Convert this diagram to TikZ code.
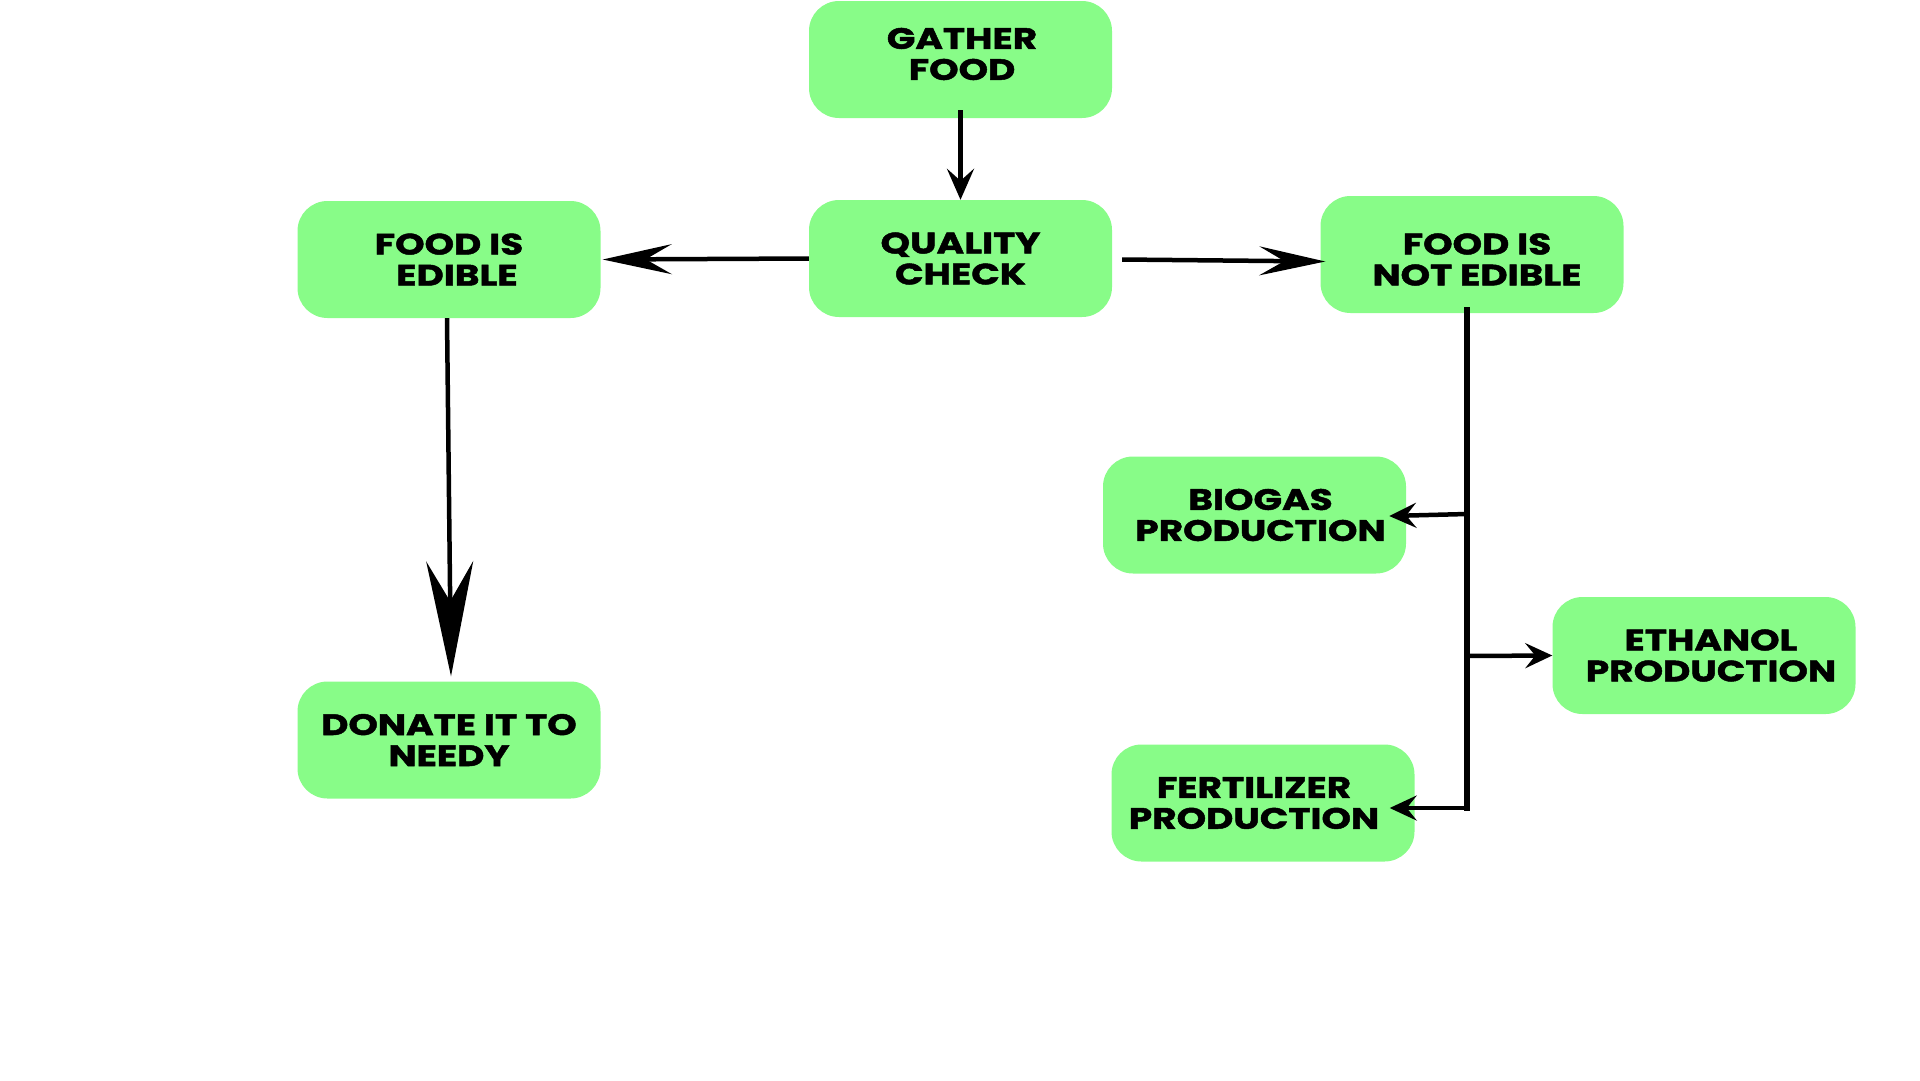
\documentclass[tikz,border=0pt]{standalone}
\usepackage{fontspec}
\newfontfamily\labfont[FakeStretch=1.27,BoldFeatures={FakeBold=1.6}]{Poppins}
\usetikzlibrary{arrows.meta}
\definecolor{boxgreen}{HTML}{88FC88}
\tikzset{
  box/.style={fill=boxgreen, rounded corners=30pt, minimum width=303pt, minimum height=117pt,
    inner sep=0pt, align=center, font=\labfont\bfseries\fontsize{29.5}{31}\selectfont},
  boxtext/.style={font=\labfont\bfseries\fontsize{29.5}{31}\selectfont, align=center},
  conn/.style={line width=4.5pt, draw=black},
}
\begin{document}
\begin{tikzpicture}[x=1pt,y=-1pt]
\useasboundingbox (0,0) rectangle (1920,1080);
\node[box] (gather) at (960.5,59.5) {};
\node[boxtext] (gathertext) at (962,54) {GATHER\\FOOD};
\node[box] (quality) at (960.5,258.5) {QUALITY\\ CHECK};
\node[box] (edible) at (449,259.5) {FOOD IS\\\hspace*{8pt} EDIBLE};
\node[box] (notedible) at (1472,254.5) {};
\node[boxtext] (notedibletext) at (1477,259.5) {FOOD IS\\NOT EDIBLE};
\node[box] (donate) at (449,740) {DONATE IT TO\\NEEDY};
\node[box] (biogas) at (1254.5,515) {\hspace*{12pt}BIOGAS\\\hspace*{12pt}PRODUCTION};
\node[box] (ethanol) at (1704,655.5) {\hspace*{14pt}ETHANOL\\\hspace*{14pt}PRODUCTION};
\node[box] (fert) at (1263,803) {FERTILIZER\hspace*{18pt}\\PRODUCTION\hspace*{18pt}};

\draw[conn, -{Stealth[length=31pt,width=27pt,inset=12pt]}] ([yshift=8pt]gather.south) -- (quality.north);
\draw[conn, -{Stealth[length=69pt,width=30pt,inset=26pt]}] (quality.west) -- ([xshift=2pt]edible.east);
\draw[conn, -{Stealth[length=66pt,width=29pt,inset=25pt]}] ([xshift=10pt,yshift=-1pt]quality.east) -- ([xshift=5pt,yshift=-7pt]notedible.west);
\draw[conn, -{Stealth[length=115pt,width=47pt,inset=40pt]}] ([xshift=-2pt]edible.south) -- ([xshift=2pt,yshift=5pt]donate.north);

\coordinate (ttop) at ([xshift=-5pt,yshift=6pt]notedible.south);
\coordinate (tbot) at (1467,808);
\coordinate (j1) at (1467,514);
\coordinate (j2) at (1467,656);
\draw[line width=6pt] (ttop) -- ([yshift=-3pt]tbot);
\draw[conn, -{Stealth[length=27pt,width=25pt,inset=10pt]}] (j1) -- ([xshift=-17pt,yshift=-1pt]biogas.east);
\draw[conn, -{Stealth[length=27pt,width=25pt,inset=10pt]}] (j2) -- (ethanol.west);
\draw[conn, -{Stealth[length=27pt,width=25pt,inset=10pt]}] (tbot) -- ([xshift=-25pt,yshift=-5pt]fert.east);
\end{tikzpicture}
\end{document}
